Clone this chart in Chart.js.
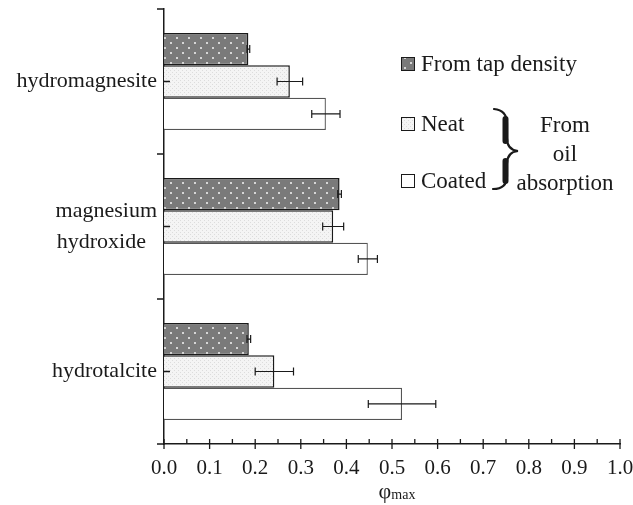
<!DOCTYPE html>
<html>
<head>
<meta charset="utf-8">
<script src="https://cdn.jsdelivr.net/npm/chart.js@4.4.1/dist/chart.umd.min.js"></script>
<style>
  html, body { margin: 0; padding: 0; background: #fff; }
  #wrap { width: 633px; height: 505px; }
</style>
</head>
<body>
<div id="wrap"><canvas id="phiChart" width="633" height="505"></canvas></div>
<script>
const categories = ['hydromagnesite', ['magnesium', 'hydroxide  '], 'hydrotalcite'];
const tapDensity = [0.185, 0.385, 0.186];
const tapErr = [0.003, 0.004, 0.004];
const neat = [0.276, 0.371, 0.242];
const neatErr = [0.028, 0.023, 0.042];
const coated = [0.355, 0.447, 0.522];
const coatedErr = [0.031, 0.021, 0.074];
const seriesLabels = ['From tap density', 'Neat', 'Coated'];
const bracketLines = ['From', 'oil', 'absorption'];

const ink = '#1a1a1a';
const serif = "'Liberation Serif', 'DejaVu Serif', serif";

// dotted fills, like the print version
function makePattern(bg, dot, w, h, dots, ds) {
    const c = document.createElement('canvas');
    c.width = w; c.height = h;
    const g = c.getContext('2d');
    g.fillStyle = bg;
    g.fillRect(0, 0, w, h);
    g.fillStyle = dot;
    dots.forEach(p => g.fillRect(p[0], p[1], ds, ds));
    return g.createPattern(c, 'repeat');
}
const tapFill = makePattern('#7a7a7a', '#d6d6d6', 12, 10, [[2, 2], [8, 7]], 2);
const neatFill = makePattern('#f4f4f4', '#dcdcdc', 4, 4, [[0, 0], [2, 2]], 1);
const coatedFill = '#ffffff';

const errorBars = {
    id: 'errorBars',
    afterDatasetsDraw(chart) {
        const ctx = chart.ctx, xs = chart.scales.x;
        ctx.save();
        ctx.strokeStyle = ink;
        ctx.lineWidth = 1.2;
        chart.data.datasets.forEach((ds, di) => {
            const meta = chart.getDatasetMeta(di);
            meta.data.forEach((bar, i) => {
                const x1 = xs.getPixelForValue(ds.data[i] - ds.errors[i]);
                const x2 = xs.getPixelForValue(ds.data[i] + ds.errors[i]);
                const y = bar.y;
                ctx.beginPath();
                ctx.moveTo(x1, y); ctx.lineTo(x2, y);
                ctx.moveTo(x1, y - 4); ctx.lineTo(x1, y + 4);
                ctx.moveTo(x2, y - 4); ctx.lineTo(x2, y + 4);
                ctx.stroke();
            });
        });
        ctx.restore();
    }
};

const axisDecor = {
    id: 'axisDecor',
    afterDraw(chart) {
        const ctx = chart.ctx, xs = chart.scales.x, ys = chart.scales.y;
        const a = chart.chartArea;
        ctx.save();
        ctx.strokeStyle = ink;
        ctx.lineWidth = 1.3;
        ctx.beginPath();
        // x ticks: major cross the axis, minor sit above
        for (let k = 0; k <= 20; k++) {
            const px = xs.getPixelForValue(k * 0.05);
            ctx.moveTo(px, a.bottom - 5);
            ctx.lineTo(px, k % 2 === 0 ? a.bottom + 5 : a.bottom);
        }
        // y ticks: boundaries outside, centres inside
        const band = ys.getPixelForValue(1) - ys.getPixelForValue(0);
        for (let i = 0; i < categories.length; i++) {
            const cy = ys.getPixelForValue(i);
            ctx.moveTo(a.left, cy); ctx.lineTo(a.left + 6, cy);
            ctx.moveTo(a.left - 7, cy - band / 2); ctx.lineTo(a.left, cy - band / 2);
        }
        ctx.moveTo(a.left - 7, a.bottom); ctx.lineTo(a.left, a.bottom);
        ctx.stroke();

        // axis title: phi with subscript
        ctx.fillStyle = ink;
        ctx.textBaseline = 'alphabetic';
        ctx.font = '22px ' + serif;
        const wPhi = ctx.measureText('φ').width;
        ctx.font = '14px ' + serif;
        const wMax = ctx.measureText('max').width;
        const x0 = (a.left + a.right) / 2 + 5 - (wPhi + wMax) / 2;
        ctx.font = '22px ' + serif;
        ctx.textAlign = 'left';
        ctx.fillText('φ', x0, 498);
        ctx.font = '14px ' + serif;
        ctx.fillText('max', x0 + wPhi, 499);

        // legend
        const fills = [tapFill, neatFill, coatedFill];
        const rows = [64, 124, 181];
        ctx.font = '23px ' + serif;
        ctx.textBaseline = 'middle';
        rows.forEach((ry, i) => {
            ctx.fillStyle = fills[i];
            ctx.fillRect(401, ry - 7, 14, 14);
            ctx.lineWidth = 1;
            ctx.strokeRect(401.5, ry - 6.5, 13, 13);
            ctx.fillStyle = ink;
            ctx.fillText(seriesLabels[i], 421, ry + 1);
        });

        // brace
        ctx.lineCap = 'round';
        ctx.lineWidth = 2.2;
        ctx.beginPath();
        ctx.moveTo(494, 109);
        ctx.quadraticCurveTo(507, 110, 507, 124);
        ctx.lineTo(507, 138);
        ctx.quadraticCurveTo(507, 150, 518, 151);
        ctx.quadraticCurveTo(507, 152, 507, 164);
        ctx.lineTo(507, 176);
        ctx.quadraticCurveTo(507, 189, 493, 189);
        ctx.stroke();
        ctx.lineWidth = 6;
        ctx.beginPath();
        ctx.moveTo(505.5, 119); ctx.lineTo(505.5, 141);
        ctx.moveTo(505.5, 161); ctx.lineTo(505.5, 181);
        ctx.stroke();

        ctx.textAlign = 'center';
        bracketLines.forEach((t, i) => ctx.fillText(t, 565, 126 + i * 29));
        ctx.restore();
    }
};

new Chart(document.getElementById('phiChart').getContext('2d'), {
    type: 'bar',
    data: {
        labels: categories,
        datasets: [
            { label: seriesLabels[0], data: tapDensity, errors: tapErr, backgroundColor: tapFill, borderColor: ink, borderWidth: 1.5 },
            { label: seriesLabels[1], data: neat, errors: neatErr, backgroundColor: neatFill, borderColor: ink, borderWidth: 1.5 },
            { label: seriesLabels[2], data: coated, errors: coatedErr, backgroundColor: coatedFill, borderColor: '#555', borderWidth: 1.3 }
        ]
    },
    options: {
        indexAxis: 'y',
        responsive: false,
        animation: false,
        categoryPercentage: 0.67,
        barPercentage: 1.0,
        layout: { padding: { top: 9, right: 13, bottom: 0, left: 0 } },
        scales: {
            x: {
                min: 0, max: 1,
                ticks: { stepSize: 0.1, callback: v => v.toFixed(1), color: ink, font: { family: serif, size: 21 }, padding: 12 },
                grid: { display: false, drawTicks: false },
                border: { display: true, color: ink, width: 1.5 },
                afterFit: s => { s.height = 61; s.paddingLeft = 0; s.paddingRight = 0; }
            },
            y: {
                ticks: { color: ink, font: { family: serif, size: 22, lineHeight: 1.4 }, padding: 7 },
                grid: { display: false, drawTicks: false },
                border: { display: true, color: ink, width: 1.5 },
                afterFit: s => { s.width = 164; s.paddingTop = 0; s.paddingBottom = 0; }
            }
        },
        plugins: { legend: { display: false }, tooltip: { enabled: false }, title: { display: false } }
    },
    plugins: [errorBars, axisDecor]
});
</script>
</body>
</html>
